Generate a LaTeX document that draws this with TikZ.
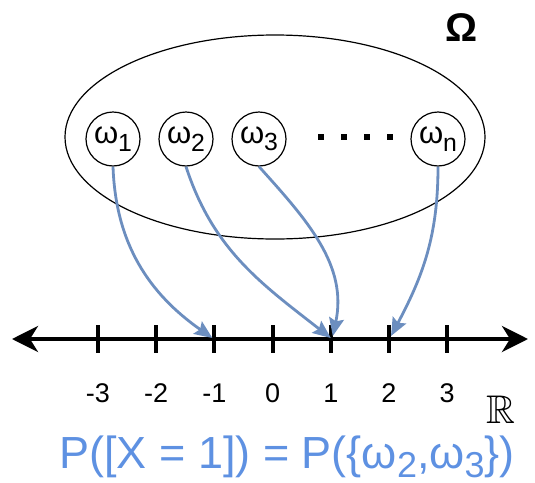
\documentclass[tikz,border=0pt]{standalone}
\usepackage{amssymb}
\usepackage{fontspec}
\setmainfont{Liberation Sans}
\usetikzlibrary{arrows.meta,positioning}
\definecolor{mapblue}{RGB}{108,142,191}
\definecolor{textblue}{RGB}{94,145,226}
\newcommand{\lowsub}[1]{\raisebox{-0.24em}{\scalebox{0.8}{#1}}}

\begin{document}
\begin{tikzpicture}[x=1pt,y=1pt]
\tikzset{
  outcome/.style={draw,circle,line width=1.2pt,minimum size=54pt,inner sep=0pt,font=\fontsize{31}{35}\selectfont},
  mapsto/.style={draw=mapblue,line width=2.8pt,-{Stealth[length=18pt,width=15pt,inset=3pt]}},
  tickmark/.style={line width=4pt},
  ticklabel/.style={font=\fontsize{27}{31}\selectfont}
}
\useasboundingbox (0,0) rectangle (535,-482);
% sample space
\draw[line width=1.2pt] (275,-137) ellipse [x radius=210,y radius=102];
\node[font=\fontsize{40}{46}\selectfont\bfseries] (omega) at (462,-28) {Ω};
\node[outcome] (w1) at (113,-139) {ω\lowsub{1}};
\node[outcome] (w2) at (186,-139) {ω\lowsub{2}};
\node[outcome] (w3) at (259,-139) {ω\lowsub{3}};
\node[outcome] (wn) at (438,-139) {ω\lowsub{n}};
\foreach \x in {321,344,367,390}{\fill (\x-2.6,-139.6) rectangle (\x+2.6,-134.4);}
% real line
\coordinate (axl) at (12,-339);
\coordinate (axr) at (528,-339);
\draw[line width=4pt,{Stealth[length=26pt,width=26pt,inset=8pt]}-{Stealth[length=26pt,width=26pt,inset=8pt]}] (axl) -- (axr);
\foreach \v [count=\k] in {-3,-2,-1,0,1,2,3}{
  \coordinate (t\k) at (98+58.2*\k-58.2,-339);
  \draw[tickmark] ([yshift=14pt]t\k) -- ([yshift=-14pt]t\k);
  \node[ticklabel] (l\k) at ([yshift=-54pt]t\k) {\v};
}
\node[font=\fontsize{40}{46}\selectfont] (reals) at (501,-410) {$\mathbb{R}$};
% the map X
\draw[mapsto] (w1.south) to[out=-88,in=145] ([xshift=-2pt,yshift=1pt]t3);
\draw[mapsto] (w2.south) to[out=-72,in=142] ([yshift=1pt]t5);
\draw[mapsto] (w3.south) to[out=-48,in=78] ([xshift=2pt,yshift=3pt]t5);
\draw[mapsto] (wn.south) to[out=-90,in=62] ([xshift=2pt,yshift=3pt]t6);
\node[anchor=base,text=textblue,font=\fontsize{45}{50}\selectfont] (prob) at (287,-468) {P([X = 1]) = P(\{ω\raisebox{-0.2em}{\scalebox{0.8}{2}},ω\raisebox{-0.2em}{\scalebox{0.8}{3}}\})};
\end{tikzpicture}
\end{document}
